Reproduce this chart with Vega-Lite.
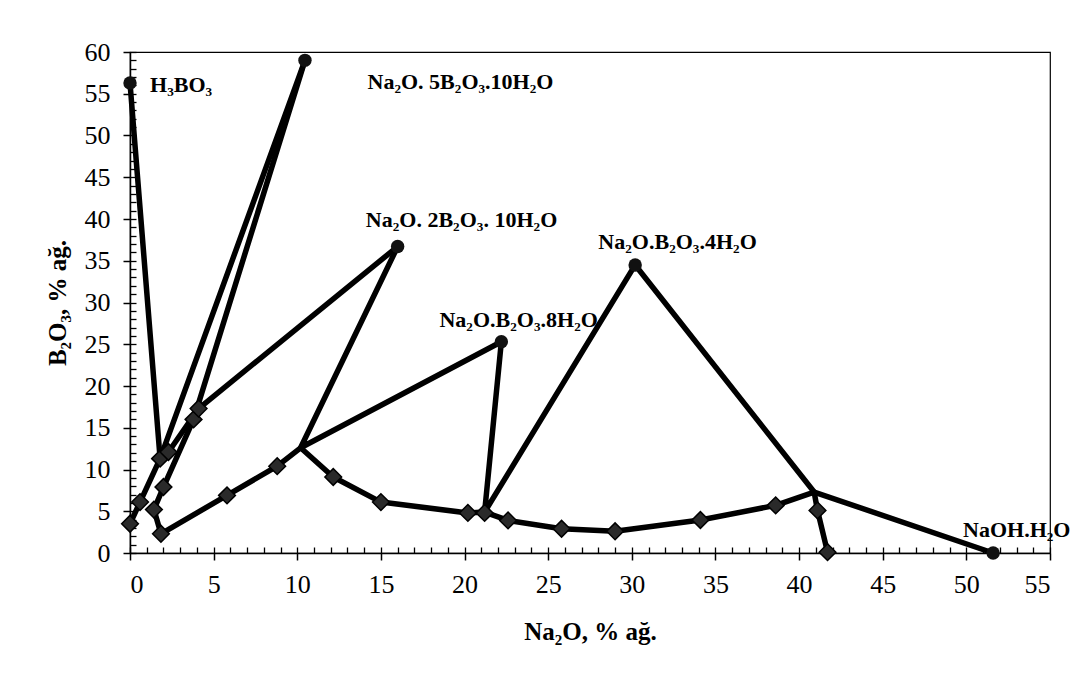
{
  "$schema": "https://vega.github.io/schema/vega-lite/v6.json",
  "width": 920,
  "height": 501,
  "autosize": {"type": "none"},
  "padding": {"left": 130, "top": 52, "right": 41, "bottom": 133},
  "background": "white",
  "config": {
    "view": {"stroke": "#000", "strokeWidth": 1.2},
    "font": "Liberation Serif",
    "axis": {"grid": false, "domainColor": "black", "domainWidth": 1.5, "labelColor": "black", "titleColor": "black", "labelFont": "Liberation Serif", "titleFont": "Liberation Serif"}
  },
  "datasets": {
    "lines": [
      {"s": "a", "o": 1, "x": 0, "y": 56.3},
      {"s": "a", "o": 2, "x": 1.8, "y": 11.3},
      {"s": "b", "o": 1, "x": 0, "y": 3.5},
      {"s": "b", "o": 2, "x": 0.6, "y": 6.1},
      {"s": "b", "o": 3, "x": 1.8, "y": 11.3},
      {"s": "b", "o": 4, "x": 10.46, "y": 59.0},
      {"s": "c", "o": 1, "x": 10.46, "y": 59.0},
      {"s": "c", "o": 2, "x": 3.8, "y": 16.0},
      {"s": "c", "o": 3, "x": 2.0, "y": 7.9},
      {"s": "c", "o": 4, "x": 1.43, "y": 5.2},
      {"s": "c", "o": 5, "x": 1.85, "y": 2.3},
      {"s": "c", "o": 6, "x": 5.8, "y": 6.9},
      {"s": "c", "o": 7, "x": 8.8, "y": 10.4},
      {"s": "c", "o": 8, "x": 10.2, "y": 12.6},
      {"s": "c", "o": 9, "x": 12.15, "y": 9.1},
      {"s": "c", "o": 10, "x": 15.0, "y": 6.1},
      {"s": "c", "o": 11, "x": 20.2, "y": 4.8},
      {"s": "c", "o": 12, "x": 21.2, "y": 4.9},
      {"s": "c", "o": 13, "x": 22.6, "y": 3.9},
      {"s": "c", "o": 14, "x": 25.8, "y": 2.9},
      {"s": "c", "o": 15, "x": 29.0, "y": 2.6},
      {"s": "c", "o": 16, "x": 34.1, "y": 3.95},
      {"s": "c", "o": 17, "x": 38.6, "y": 5.7},
      {"s": "c", "o": 18, "x": 40.9, "y": 7.3},
      {"s": "c", "o": 19, "x": 51.6, "y": 0},
      {"s": "d", "o": 1, "x": 16.0, "y": 36.7},
      {"s": "d", "o": 2, "x": 4.1, "y": 17.3},
      {"s": "d", "o": 3, "x": 2.3, "y": 12.1},
      {"s": "d", "o": 4, "x": 1.8, "y": 11.3},
      {"s": "e", "o": 1, "x": 16.0, "y": 36.7},
      {"s": "e", "o": 2, "x": 10.2, "y": 12.6},
      {"s": "e", "o": 3, "x": 22.2, "y": 25.3},
      {"s": "e", "o": 4, "x": 21.2, "y": 4.9},
      {"s": "e", "o": 5, "x": 30.2, "y": 34.5},
      {"s": "e", "o": 6, "x": 40.9, "y": 7.3},
      {"s": "e", "o": 7, "x": 41.1, "y": 5.1},
      {"s": "e", "o": 8, "x": 41.7, "y": 0.1}
    ],
    "diamonds": [
      {"x": 0, "y": 3.5}, {"x": 0.6, "y": 6.1}, {"x": 1.43, "y": 5.2}, {"x": 1.85, "y": 2.3},
      {"x": 2.0, "y": 7.9}, {"x": 1.8, "y": 11.3}, {"x": 2.3, "y": 12.1}, {"x": 3.8, "y": 16.0},
      {"x": 4.1, "y": 17.3}, {"x": 5.8, "y": 6.9}, {"x": 8.8, "y": 10.4}, {"x": 12.15, "y": 9.1},
      {"x": 15.0, "y": 6.1}, {"x": 20.2, "y": 4.8}, {"x": 21.2, "y": 4.8}, {"x": 22.6, "y": 3.9},
      {"x": 25.8, "y": 2.9}, {"x": 29.0, "y": 2.6}, {"x": 34.1, "y": 3.95}, {"x": 38.6, "y": 5.7},
      {"x": 41.1, "y": 5.1}, {"x": 41.7, "y": 0.1}
    ],
    "circles": [
      {"x": 0, "y": 56.3}, {"x": 10.46, "y": 59.0}, {"x": 16.0, "y": 36.7},
      {"x": 22.2, "y": 25.3}, {"x": 30.2, "y": 34.5}, {"x": 51.6, "y": 0}
    ],
    "labels": [
      {"x": 1.2, "y": 56.0, "t": "H₃BO₃"},
      {"x": 14.2, "y": 56.4, "t": "Na₂O. 5B₂O₃.10H₂O"},
      {"x": 14.1, "y": 39.9, "t": "Na₂O. 2B₂O₃. 10H₂O"},
      {"x": 18.5, "y": 27.9, "t": "Na₂O.B₂O₃.8H₂O"},
      {"x": 28.0, "y": 37.2, "t": "Na₂O.B₂O₃.4H₂O"},
      {"x": 49.8, "y": 2.75, "t": "NaOH.H₂O"}
    ]
  },
  "resolve": {"scale": {"x": "independent", "y": "independent"}, "axis": {"x": "independent", "y": "independent"}},
  "layer": [
    {
      "data": {"name": "lines"},
      "mark": {"type": "line", "color": "#000", "strokeWidth": 5.5, "strokeJoin": "round", "strokeCap": "round"},
      "encoding": {
        "x": {"field": "x", "type": "quantitative", "scale": {"domain": [0, 55], "nice": false},
          "axis": {"orient": "bottom", "values": [0,5,10,15,20,25,30,35,40,45,50,55], "ticks": true, "tickColor": "black", "tickOpacity": 1, "tickWidth": 1.5, "tickSize": 7, "labelFontSize": 26, "labelPadding": 11, "title": "Na₂O, % ağ.", "titleFontSize": 25, "titleFontWeight": "bold", "titlePadding": 22}},
        "y": {"field": "y", "type": "quantitative", "scale": {"domain": [0, 60], "nice": false},
          "axis": {"orient": "left", "values": [0,5,10,15,20,25,30,35,40,45,50,55,60], "ticks": true, "tickColor": "black", "tickOpacity": 1, "tickWidth": 1.5, "tickSize": 7, "labelFontSize": 26, "labelPadding": 13, "title": "B₂O₃, % ağ.", "titleFontSize": 25, "titleFontWeight": "bold", "titlePadding": 14}},
        "detail": {"field": "s"},
        "order": {"field": "o", "type": "quantitative"}
      }
    },
    {
      "data": {"name": "diamonds"},
      "mark": {"type": "point", "shape": "diamond", "filled": true, "size": 280, "color": "#2a2a2a", "stroke": "#000", "strokeWidth": 1.5, "opacity": 1},
      "encoding": {
        "x": {"field": "x", "type": "quantitative", "scale": {"domain": [0, 55], "nice": false},
          "axis": {"orient": "bottom", "values": [0,1,2,3,4,5,6,7,8,9,10,11,12,13,14,15,16,17,18,19,20,21,22,23,24,25,26,27,28,29,30,31,32,33,34,35,36,37,38,39,40,41,42,43,44,45,46,47,48,49,50,51,52,53,54,55], "ticks": true, "tickColor": "black", "tickOpacity": 1, "tickWidth": 1.3, "tickSize": -6, "labels": false, "domain": false, "title": null}},
        "y": {"field": "y", "type": "quantitative", "scale": {"domain": [0, 60], "nice": false},
          "axis": {"orient": "left", "values": [0,1,2,3,4,5,6,7,8,9,10,11,12,13,14,15,16,17,18,19,20,21,22,23,24,25,26,27,28,29,30,31,32,33,34,35,36,37,38,39,40,41,42,43,44,45,46,47,48,49,50,51,52,53,54,55,56,57,58,59,60], "ticks": true, "tickColor": "black", "tickOpacity": 1, "tickWidth": 1.3, "tickSize": -6, "labels": false, "domain": false, "title": null}}
      }
    },
    {
      "data": {"name": "circles"},
      "mark": {"type": "point", "shape": "circle", "filled": true, "size": 180, "color": "#111", "opacity": 1},
      "encoding": {
        "x": {"field": "x", "type": "quantitative", "scale": {"domain": [0, 55], "nice": false}, "axis": null},
        "y": {"field": "y", "type": "quantitative", "scale": {"domain": [0, 60], "nice": false}, "axis": null}
      }
    },
    {
      "data": {"name": "labels"},
      "mark": {"type": "text", "align": "left", "baseline": "middle", "font": "Liberation Serif", "fontWeight": "bold", "fontSize": 22, "color": "#000"},
      "encoding": {
        "x": {"field": "x", "type": "quantitative", "scale": {"domain": [0, 55], "nice": false}, "axis": null},
        "y": {"field": "y", "type": "quantitative", "scale": {"domain": [0, 60], "nice": false}, "axis": null},
        "text": {"field": "t"}
      }
    }
  ]
}
